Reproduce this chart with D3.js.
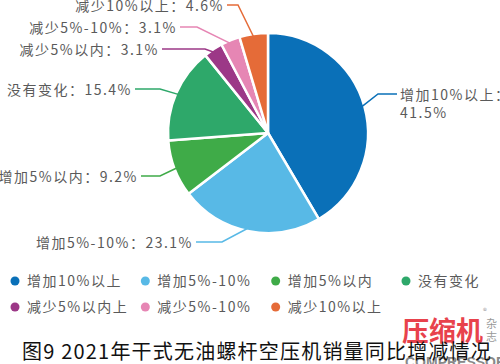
<!DOCTYPE html>
<html>
<head>
<meta charset="utf-8">
<script src="https://cdn.jsdelivr.net/npm/d3@7/dist/d3.min.js"></script>
<style>
  body { margin: 0; background: #fff; }
  svg { display: block; font-family: "Noto Sans CJK SC", "Noto Sans", sans-serif; }
</style>
</head>
<body>
<div id="chart"></div>
<script>
// data
var categories = ["增加10%以上", "增加5%-10%", "增加5%以内", "没有变化", "减少5%以内", "减少5%-10%", "减少10%以上"];
var legendNames = ["增加10%以上", "增加5%-10%", "增加5%以内", "没有变化", "减少5%以内上", "减少5%-10%", "减少10%以上"];
var values = [41.5, 23.1, 9.2, 15.4, 3.1, 3.1, 4.6];
var colors = ["#0a70b8", "#58b9e6", "#3fab48", "#2ea86a", "#9c3887", "#e686b4", "#e56b38"];
var title = "图9 2021年干式无油螺杆空压机销量同比增减情况";

var width = 500,
    height = 364,
    cx = 268, cy = 133,
    radius = 100;

// leader line layout relative to pie centre: elbow point and end of the horizontal run
var leaders = [
  {elbow: [110, -39], end: 129},
  {elbow: [-46, 109], end: -72},
  {elbow: [-108, 43], end: -127},
  {elbow: [-108, -44], end: -133},
  {elbow: [-63, -84], end: -106},
  {elbow: [-71, -106], end: -88},
  {elbow: [-30, -128], end: -41}
];

var svg = d3.select("#chart")
  .append("svg")
  .attr("width", width)
  .attr("height", height);

svg.append("rect").attr("width", width).attr("height", height).attr("fill", "#fff");

var pie = d3.pie().sort(null).value(function(d) { return d; });
var arcs = pie(values);

var arc = d3.arc().innerRadius(0).outerRadius(radius);

var g = svg.append("g").attr("transform", "translate(" + cx + "," + cy + ")");

g.selectAll("path.slice")
  .data(arcs)
  .enter()
  .append("path")
  .attr("class", "slice")
  .attr("d", arc)
  .attr("fill", function(d, i) { return colors[i]; })
  .attr("stroke", "#fff")
  .attr("stroke-width", 2.5)
  .attr("stroke-linejoin", "round");

// leader lines
g.selectAll("polyline")
  .data(arcs)
  .enter()
  .append("polyline")
  .attr("fill", "none")
  .attr("stroke", function(d, i) { return colors[i]; })
  .attr("stroke-width", 1.5)
  .attr("points", function(d, i) {
    var a = (d.startAngle + d.endAngle) / 2;
    var p = [Math.sin(a) * radius * 0.96, -Math.cos(a) * radius * 0.96];
    var L = leaders[i];
    return [p, L.elbow, [L.end, L.elbow[1]]].map(function(q) { return q.join(","); }).join(" ");
  });

// labels
var labels = g.selectAll("text.lbl")
  .data(arcs)
  .enter()
  .append("text")
  .attr("class", "lbl")
  .attr("fill", "#5a5a5a")
  .style("font-size", "14px")
  .style("letter-spacing", "1.5px")
  .attr("text-anchor", function(d, i) { return leaders[i].end > 0 ? "start" : "end"; })
  .attr("x", function(d, i) { var e = leaders[i].end; return e > 0 ? e + 3 : e - 3; })
  .attr("y", function(d, i) { return leaders[i].elbow[1] + 6; });

labels.each(function(d, i) {
  var t = d3.select(this);
  if (leaders[i].end > 0) {
    t.append("tspan").text(categories[i] + "：");
    t.append("tspan").attr("x", leaders[i].end + 3).attr("dy", 18).text(values[i].toFixed(1) + "%");
  } else {
    t.text(categories[i] + "：" + values[i].toFixed(1) + "%");
  }
});

// legend
var legendX = d3.scalePoint().domain([0, 1, 2, 3]).range([15, 406]);
var legend = svg.selectAll("g.legend")
  .data(legendNames)
  .enter()
  .append("g")
  .attr("class", "legend")
  .attr("transform", function(d, i) {
    return "translate(" + legendX(i % 4) + "," + (281 + Math.floor(i / 4) * 26) + ")";
  });

legend.append("circle")
  .attr("r", 4.5)
  .attr("fill", function(d, i) { return colors[i]; });

legend.append("text")
  .attr("x", 12)
  .attr("y", 5)
  .attr("fill", "#5a5a5a")
  .style("font-size", "14px")
  .style("letter-spacing", "1.5px")
  .text(function(d) { return d; });

// watermark
var wm = svg.append("g").attr("class", "watermark");
wm.append("text")
  .attr("x", 402).attr("y", 341)
  .attr("fill", "#e8424c")
  .style("font-size", "27px")
  .style("font-weight", "bold")
  .text("压缩机");
wm.append("text")
  .attr("x", 483).attr("y", 314)
  .attr("fill", "#999")
  .style("font-size", "8px")
  .text("®");
wm.append("text")
  .attr("x", 486).attr("y", 328)
  .attr("fill", "#999")
  .style("font-size", "11px")
  .text("杂");
wm.append("text")
  .attr("x", 486).attr("y", 341)
  .attr("fill", "#999")
  .style("font-size", "11px")
  .text("志");
wm.append("text")
  .attr("x", 405).attr("y", 367)
  .attr("fill", "#888")
  .style("font-size", "14px")
  .style("font-weight", "bold")
  .style("font-family", "Liberation Sans, sans-serif")
  .text("COMPRESSOR");

// title
svg.append("text")
  .attr("x", 22)
  .attr("y", 359)
  .attr("fill", "#111")
  .style("font-size", "20px")
  .style("letter-spacing", "1.2px")
  .text(title);
</script>
</body>
</html>
